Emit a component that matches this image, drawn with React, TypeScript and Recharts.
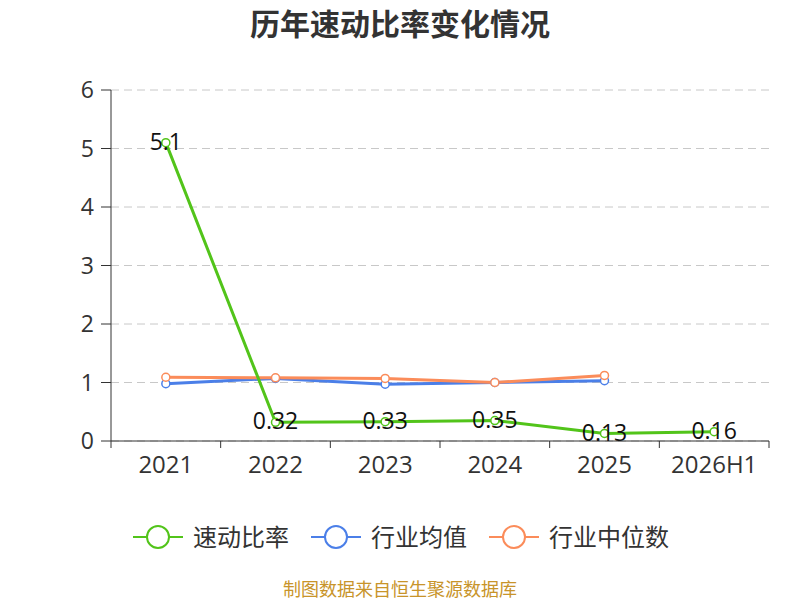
import { LineChart, Line, XAxis, YAxis, CartesianGrid, LabelList } from 'recharts';

const years = ['2021', '2022', '2023', '2024', '2025', '2026H1'];
const quickRatio = [5.1, 0.32, 0.33, 0.35, 0.13, 0.16];
const industryMean = [0.98, 1.07, 0.97, 1.0, 1.03, null];
const industryMedian = [1.09, 1.08, 1.07, 1.0, 1.12, null];
const yTicks = [0, 1, 2, 3, 4, 5, 6];

const data = years.map((y, i) => ({
    year: y,
    quick: quickRatio[i],
    mean: industryMean[i],
    median: industryMedian[i],
}));

const FONT = '"Open Sans", "Noto Sans CJK SC", sans-serif';
const GREEN = '#52c41a';
const BLUE = '#4b7fe8';
const ORANGE = '#fb8c5a';

const W = 800;
const H = 600;
const LEFT = 111;
const RIGHT = 31;
const band = (W - LEFT - RIGHT) / years.length;

// category axis with tick marks on the band edges, not the centres
const XTick = (props: any) => {
    const { x, y, payload, index } = props;
    return (
        <g>
            <line x1={x - band / 2} y1={y - 8} x2={x - band / 2} y2={y - 1} stroke="#333" />
            {index === years.length - 1 && (
                <line x1={x + band / 2} y1={y - 8} x2={x + band / 2} y2={y - 1} stroke="#333" />
            )}
            <text x={x} y={y + 24} textAnchor="middle" fill="#333" fontSize={24} fontFamily={FONT}>
                {payload.value}
            </text>
        </g>
    );
};

const legendItems = [
    { name: '速动比率', color: GREEN },
    { name: '行业均值', color: BLUE },
    { name: '行业中位数', color: ORANGE },
];

export default function App() {
    return (
        <div style={{ position: 'absolute', left: 0, top: 0, width: W, height: H, background: '#fff', fontFamily: FONT }}>
            <div style={{ position: 'absolute', top: 4, width: W, textAlign: 'center', fontSize: 30, fontWeight: 'bold', color: '#333', lineHeight: '40px' }}>
                历年速动比率变化情况
            </div>
            <LineChart width={W} height={H} data={data} margin={{ top: 90, right: RIGHT, left: 0, bottom: 119 }}>
                <CartesianGrid vertical={false} stroke="#c8c8c8" strokeDasharray="8 5" />
                <XAxis
                    dataKey="year"
                    stroke="#333"
                    tickLine={false}
                    tick={<XTick />}
                    interval={0}
                    height={40}
                    padding={{ left: band / 2, right: band / 2 }}
                />
                <YAxis
                    width={LEFT}
                    domain={[0, 6]}
                    ticks={yTicks}
                    stroke="#333"
                    tickSize={10}
                    tickMargin={7}
                    tick={{ fill: '#333', fontSize: 23, fontFamily: FONT }}
                />
                <Line
                    dataKey="mean"
                    stroke={BLUE}
                    strokeWidth={3}
                    dot={{ r: 4, fill: '#fff', stroke: BLUE, strokeWidth: 1.5 }}
                    isAnimationActive={false}
                />
                <Line
                    dataKey="median"
                    stroke={ORANGE}
                    strokeWidth={3}
                    dot={{ r: 4, fill: '#fff', stroke: ORANGE, strokeWidth: 1.5 }}
                    isAnimationActive={false}
                />
                <Line
                    dataKey="quick"
                    stroke={GREEN}
                    strokeWidth={3}
                    dot={{ r: 4, fill: '#fff', stroke: GREEN, strokeWidth: 1.5 }}
                    isAnimationActive={false}
                >
                    <LabelList
                        dataKey="quick"
                        position="center"
                        dy={-1}
                        fill="#111"
                        fontSize={23}
                        fontFamily={FONT}
                    />
                </Line>
            </LineChart>
            <div style={{ position: 'absolute', top: 522, left: 133, display: 'flex', gap: 22, fontSize: 24, color: '#333', lineHeight: '30px' }}>
                {legendItems.map((it) => (
                    <div key={it.name} style={{ display: 'flex', alignItems: 'center', gap: 10 }}>
                        <svg width={50} height={26}>
                            <line x1={0} y1={13} x2={50} y2={13} stroke={it.color} strokeWidth={2} />
                            <circle cx={25} cy={13} r={11} fill="#fff" stroke={it.color} strokeWidth={2} />
                        </svg>
                        <span>{it.name}</span>
                    </div>
                ))}
            </div>
            <div style={{ position: 'absolute', top: 577, width: W, textAlign: 'center', fontSize: 18, color: '#c8942a', lineHeight: '24px' }}>
                制图数据来自恒生聚源数据库
            </div>
        </div>
    );
}
